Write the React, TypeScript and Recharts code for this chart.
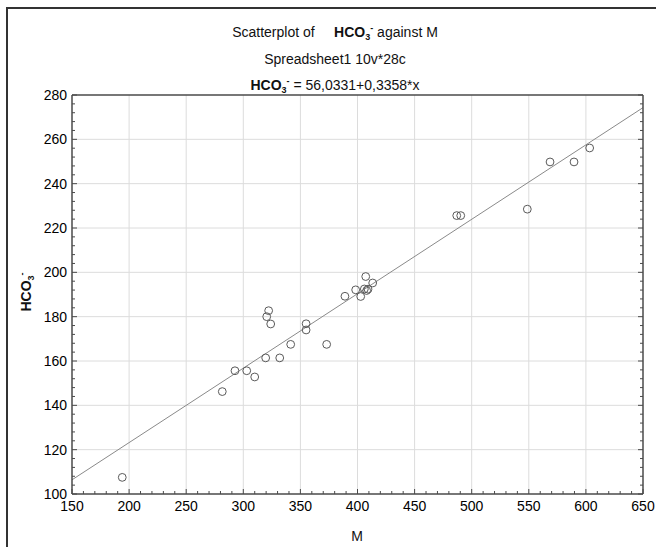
import React from 'react'
import { ScatterChart, Scatter, XAxis, YAxis, ReferenceLine } from 'recharts'

// M (x) and HCO3- (y) for the 28 cases
const mValues = [194, 281.6, 292.7, 303, 310, 319.6, 320.5, 322.2, 324, 331.9, 341.5, 355, 355, 373,
  389, 398.4, 402.8, 406, 407.2, 408, 409.2, 413.3, 486.9, 490.4, 548.7, 568.6, 589.6, 603.3]
const hco3Values = [107.5, 146.2, 155.6, 155.6, 152.8, 161.4, 180, 182.7, 176.7, 161.4, 167.5, 176.8, 174, 167.5,
  189.2, 192.1, 189.1, 192.5, 198.1, 191.8, 192.4, 195.2, 225.6, 225.6, 228.5, 249.8, 249.8, 256.1]

const xMajorTicks = [150, 200, 250, 300, 350, 400, 450, 500, 550, 600, 650]
const yMajorTicks = [100, 120, 140, 160, 180, 200, 220, 240, 260, 280]
const X_MINOR_STEP = 10
const Y_MINOR_STEP = 4

const INTERCEPT = 56.0331
const SLOPE = 0.3358

const points = mValues.map((m, i) => ({ m, hco3: hco3Values[i] }))

const steps = (from: number, to: number, step: number) => {
  const out: number[] = []
  for (let v = from; v <= to + 1e-9; v += step) out.push(Math.round(v * 100) / 100)
  return out
}
const xAllTicks = steps(150, 650, X_MINOR_STEP)
const yAllTicks = steps(100, 280, Y_MINOR_STEP)

const FONT = '"Liberation Sans", Arial, sans-serif'
const AXIS = '#4a4a4a'
const GRID = '#dcdcdc'

const isMajor = (v: number, list: number[]) => list.includes(v)

function BottomTick({ x, y, payload }: any) {
  const major = isMajor(payload.value, xMajorTicks)
  return (
    <g>
      <line x1={x} x2={x} y1={y} y2={y - (major ? 5 : 3)} stroke={AXIS} strokeWidth={1} />
      {major && (
        <text x={x} y={y + 17} textAnchor="middle" fontSize={14} fontFamily={FONT} fill="#000">
          {payload.value}
        </text>
      )}
    </g>
  )
}

function TopTick({ x, y, payload }: any) {
  const major = isMajor(payload.value, xMajorTicks)
  return <line x1={x} x2={x} y1={y} y2={y + (major ? 5 : 3)} stroke={AXIS} strokeWidth={1} />
}

function LeftTick({ x, y, payload }: any) {
  const major = isMajor(payload.value, yMajorTicks)
  return (
    <g>
      <line x1={x} x2={x + (major ? 5 : 3)} y1={y} y2={y} stroke={AXIS} strokeWidth={1} />
      {major && (
        <text x={x - 5} y={y + 5} textAnchor="end" fontSize={14} fontFamily={FONT} fill="#000">
          {payload.value}
        </text>
      )}
    </g>
  )
}

function RightTick({ x, y, payload }: any) {
  const major = isMajor(payload.value, yMajorTicks)
  return <line x1={x} x2={x - (major ? 5 : 3)} y1={y} y2={y} stroke={AXIS} strokeWidth={1} />
}

const Hco3 = () => (
  <span style={{ fontWeight: 'bold' }}>
    HCO<sub style={{ fontSize: 9, verticalAlign: -3 }}>3</sub>
    <sup style={{ fontSize: 9, verticalAlign: 6 }}>-</sup>
  </span>
)

export default function App() {
  return (
    <div style={{ position: 'absolute', left: 0, top: 0, width: 656, height: 547, background: '#fff', fontFamily: FONT, overflow: 'hidden' }}>
      {/* frame */}
      <div style={{ position: 'absolute', left: 6, top: 7, width: 660, height: 560, borderLeft: '2px solid #333', borderTop: '2px solid #333' }} />

      {/* titles */}
      <div style={{ position: 'absolute', left: 0, width: 670, top: 17, textAlign: 'center', fontSize: 14, lineHeight: '22px', color: '#111' }}>
        <div>Scatterplot of&nbsp;&nbsp;&nbsp;&nbsp; <Hco3 /> against M</div>
        <div>Spreadsheet1 10v*28c</div>
        <div><Hco3 /> = 56,0331+0,3358*x</div>
      </div>

      <ScatterChart width={656} height={547} margin={{ top: 94, right: 12, bottom: 52, left: 71 }}
        style={{ position: 'absolute', left: 0, top: 0 }}>
        <XAxis xAxisId="b" type="number" dataKey="m" domain={[150, 650]} allowDataOverflow ticks={xAllTicks}
          interval={0} height={1} tickSize={0} tickMargin={0} tickLine={false} tick={<BottomTick />}
          axisLine={{ stroke: AXIS, strokeWidth: 1.5 }} />
        <XAxis xAxisId="t" orientation="top" type="number" domain={[150, 650]} allowDataOverflow ticks={xAllTicks}
          interval={0} height={1} tickSize={0} tickMargin={0} tickLine={false} tick={<TopTick />}
          axisLine={{ stroke: AXIS, strokeWidth: 1.5 }} />
        <YAxis yAxisId="l" type="number" dataKey="hco3" domain={[100, 280]} allowDataOverflow ticks={yAllTicks}
          interval={0} width={1} tickSize={0} tickMargin={0} tickLine={false} tick={<LeftTick />}
          axisLine={{ stroke: AXIS, strokeWidth: 1.5 }} />
        <YAxis yAxisId="r" orientation="right" type="number" domain={[100, 280]} allowDataOverflow ticks={yAllTicks}
          interval={0} width={1} tickSize={0} tickMargin={0} tickLine={false} tick={<RightTick />}
          axisLine={{ stroke: AXIS, strokeWidth: 1.5 }} />
        {xMajorTicks.slice(1, -1).map(v => (
          <ReferenceLine key={'gx' + v} xAxisId="b" yAxisId="l" x={v} stroke={GRID} strokeWidth={1} />
        ))}
        {yMajorTicks.slice(1, -1).map(v => (
          <ReferenceLine key={'gy' + v} xAxisId="b" yAxisId="l" y={v} stroke={GRID} strokeWidth={1} />
        ))}
        <ReferenceLine xAxisId="b" yAxisId="l" stroke="#8a8a8a" strokeWidth={1}
          segment={[{ x: 150, y: INTERCEPT + SLOPE * 150 }, { x: 650, y: INTERCEPT + SLOPE * 650 }]} />
        <Scatter xAxisId="b" yAxisId="l" data={points} isAnimationActive={false}
          shape={(p: any) => <circle cx={p.cx} cy={p.cy} r={3.9} fill="none" stroke="#5a5a5a" strokeWidth={1} />} />
      </ScatterChart>

      {/* axis titles */}
      <div style={{ position: 'absolute', left: 340, width: 34, top: 528, textAlign: 'center', fontSize: 14, color: '#111' }}>M</div>
      <div style={{ position: 'absolute', left: 26, top: 292, transform: 'translate(-50%, -50%) rotate(-90deg)', fontSize: 14, color: '#111', whiteSpace: 'nowrap' }}>
        <Hco3 />
      </div>
    </div>
  )
}
